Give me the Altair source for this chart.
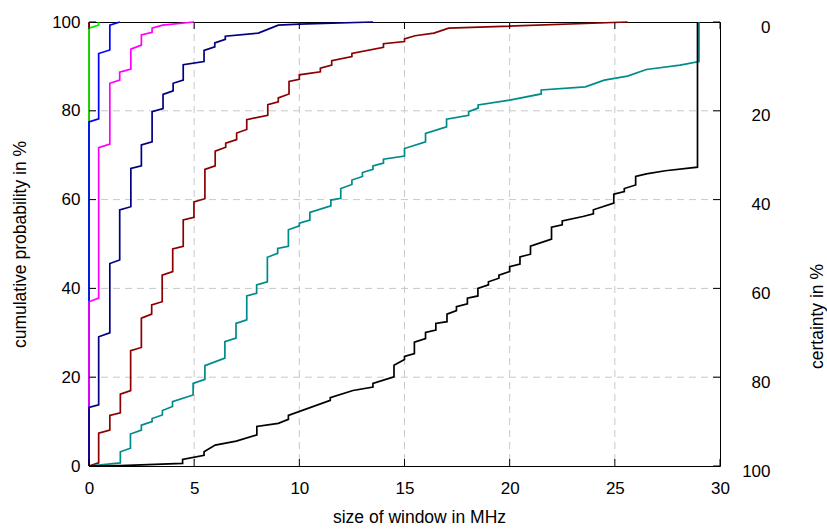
import altair as alt
import pandas as pd

# ---------------- data ----------------
x_ticks = [0, 5, 10, 15, 20, 25, 30]
y_ticks = [0, 20, 40, 60, 80, 100]
certainty_ticks = [0, 20, 40, 60, 80, 100]
x_grid = [5, 10, 15, 20, 25]
y_grid = [20, 40, 60, 80]

red_x = [0, 0]
red_y = [0, 100]

green_x = [0, 0, 0.46, 0.46]
green_y = [0, 98.6, 99.3, 100]

blue_x = [0, 0, 0.46, 0.46, 0.99, 0.99, 1.47]
blue_y = [0, 77.5, 78.2, 92.9, 93.7, 99.3, 100]

magenta_x = [0, 0, 0.46, 0.46, 0.99, 0.99, 1.46, 1.46, 1.99, 1.99, 2.49, 2.49, 3.0, 3.0, 3.5, 5.0]
magenta_y = [0, 37.0, 37.8, 71.7, 72.5, 86.2, 86.9, 88.7, 89.4, 93.9, 94.8, 97.1, 97.7, 98.6, 99.3, 100]

navy_x = [0, 0, 0.46, 0.46, 0.99, 0.99, 1.46, 1.46, 1.99, 1.99, 2.49, 2.49, 3.0, 3.0, 3.52, 3.52,
          4.0, 4.0, 4.48, 4.48, 5.47, 5.47, 5.98, 5.98, 6.48, 6.48, 8.05, 9.0, 10.0, 13.5]
navy_y = [0, 13.2, 13.8, 29.1, 30.0, 45.6, 46.4, 57.7, 58.4, 67.0, 67.6, 72.3, 73.0, 79.8, 80.5, 83.7,
          84.5, 86.2, 86.9, 90.4, 91.1, 93.6, 94.4, 95.3, 96.1, 96.8, 97.5, 99.3, 99.5, 100]

darkred_x = [0, 0.46, 0.46, 0.99, 0.99, 1.49, 1.49, 1.98, 1.98, 2.49, 2.49, 2.98, 2.98, 3.48, 3.48,
             3.98, 3.98, 4.48, 4.48, 4.99, 4.99, 5.51, 5.51, 6.0, 6.0, 6.5, 6.5, 7.02, 7.02, 7.5, 7.5,
             8.5, 8.5, 9.0, 9.0, 9.51, 9.51, 10.0, 10.0, 11.0, 11.0, 11.54, 11.54, 12.5, 12.5, 14.0,
             14.0, 15.0, 15.0, 15.5, 16.4, 17.1, 25.6]
darkred_y = [0, 0.7, 7.4, 8.1, 11.4, 12.0, 16.2, 17.0, 26.0, 26.7, 33.3, 34.2, 36.3, 37.0, 43.0,
             43.8, 48.9, 49.5, 55.4, 56.0, 59.5, 60.2, 66.8, 67.6, 70.9, 71.8, 72.7, 73.5, 75.0, 75.8, 78.0,
             79.0, 81.4, 82.0, 82.9, 83.8, 86.6, 87.1, 88.1, 88.8, 89.6, 90.3, 91.3, 92.2, 92.9, 94.3,
             95.1, 95.6, 96.2, 96.9, 97.5, 98.6, 100]

teal_x = [0, 1.49, 1.49, 1.97, 1.97, 2.49, 2.49, 3.0, 3.0, 3.49, 3.49, 3.97, 3.97, 4.95, 4.95, 5.51,
          5.51, 6.46, 6.46, 6.99, 6.99, 7.5, 7.5, 7.97, 7.97, 8.48, 8.48, 8.97, 8.97, 9.48, 9.48, 10.0,
          10.0, 10.5, 10.5, 11.5, 11.5, 11.97, 11.97, 12.5, 12.5, 13.0, 13.0, 13.5, 13.5, 14.0, 14.0,
          15.0, 15.0, 16.0, 16.0, 17.0, 17.0, 18.05, 18.05, 18.5, 18.5, 20.0, 21.5, 21.5, 23.6, 24.5,
          25.6, 26.5, 28.1, 29.0, 29.0]
teal_y = [0, 0.7, 3.2, 4.0, 7.2, 8.1, 9.2, 10.0, 10.7, 11.5, 12.5, 13.4, 14.5, 16.0, 18.6, 19.5,
          22.6, 24.3, 28.0, 28.8, 32.1, 32.9, 38.3, 38.9, 40.8, 41.5, 47.0, 47.9, 49.0, 49.5, 53.2, 54.1,
          54.7, 55.4, 57.1, 58.6, 59.9, 60.3, 62.5, 63.4, 64.4, 65.2, 66.1, 66.8, 67.6, 68.2, 69.1,
          69.8, 71.5, 73.0, 74.9, 76.4, 78.1, 79.0, 79.8, 80.6, 81.3, 82.4, 83.8, 84.7, 85.4, 86.9,
          87.8, 89.3, 90.3, 91.1, 100]

black_x = [0, 1.5, 4.45, 4.45, 5.47, 5.47, 6.0, 7.0, 7.98, 7.98, 9.0, 9.48, 9.48, 11.47, 11.47, 12.55,
           13.5, 13.5, 14.5, 14.5, 15.0, 15.0, 15.47, 15.47, 16.0, 16.0, 16.49, 16.49, 17.02, 17.02,
           17.47, 17.47, 17.99, 17.99, 18.49, 18.49, 18.99, 18.99, 19.49, 19.49, 20.0, 20.0, 20.49,
           20.49, 20.99, 20.99, 21.99, 21.99, 22.5, 22.5, 23.48, 23.98, 23.98, 24.95, 24.95, 25.45,
           25.45, 25.99, 25.99, 26.5, 27.4, 28.93, 28.93]
black_y = [0, 0.1, 0.6, 1.5, 2.4, 3.2, 4.7, 5.6, 7.0, 8.9, 9.6, 10.5, 11.4, 14.8, 15.4, 17.0,
           17.8, 18.6, 20.1, 22.7, 24.0, 24.7, 25.3, 27.9, 28.7, 30.1, 30.6, 32.1, 32.5, 34.2,
           35.0, 35.9, 36.5, 37.8, 38.3, 40.0, 40.8, 41.5, 42.3, 43.0, 43.8, 44.9, 45.5,
           47.1, 47.7, 49.5, 51.1, 53.8, 54.3, 55.2, 56.2, 56.8, 57.7, 59.2, 61.2, 61.8,
           62.5, 63.3, 65.2, 65.8, 66.5, 67.3, 100]

series = [
    ("red", red_x, red_y, "#ff0000"),
    ("green", green_x, green_y, "#00ee00"),
    ("blue", blue_x, blue_y, "#0000ff"),
    ("magenta", magenta_x, magenta_y, "#ff00ff"),
    ("navy", navy_x, navy_y, "#000080"),
    ("darkred", darkred_x, darkred_y, "#8b0000"),
    ("teal", teal_x, teal_y, "#008b8b"),
    ("black", black_x, black_y, "#000000"),
]

# ---------------- chart ----------------
W, H = 631, 444
FONT = "Liberation Sans"
TITLE_SIZE = 17.5

xscale = alt.Scale(domain=[0, 30], nice=False, zero=False)
yscale = alt.Scale(domain=[0, 100], nice=False, zero=False)
cscale = alt.Scale(domain=[0, 100], nice=False, zero=False, reverse=True)

x_axis = alt.Axis(values=x_ticks, title="size of window in MHz", grid=False, domain=False, ticks=False,
                  labelFont=FONT, labelFontSize=17, labelColor="black", labelPadding=14,
                  labelFlush=False, labelOverlap=False,
                  titleFont=FONT, titleFontSize=TITLE_SIZE, titleFontWeight="normal", titleColor="black",
                  titleX=330, titleY=51, titleBaseline="middle")
y_axis = alt.Axis(values=y_ticks, title="cumulative probability in %", grid=False, domain=False,
                  ticks=False, labelFont=FONT, labelFontSize=17, labelColor="black", labelPadding=9,
                  labelFlush=False, labelOverlap=False,
                  titleFont=FONT, titleFontSize=TITLE_SIZE, titleFontWeight="normal", titleColor="black",
                  titleX=-69, titleY=H / 2, titleAngle=270, titleBaseline="middle")
c_axis = alt.Axis(values=certainty_ticks, orient="right", title="certainty in %", grid=False,
                  domain=False, ticks=False, labelFont=FONT, labelFontSize=17, labelColor="black",
                  labelAlign="right", labelPadding=50, labelOffset=5, labelFlush=False,
                  labelOverlap=False,
                  titleFont=FONT, titleFontSize=TITLE_SIZE, titleFontWeight="normal", titleColor="black",
                  titleX=97, titleY=294, titleAngle=270, titleBaseline="middle")

X = alt.X("x:Q", scale=xscale, axis=x_axis)
Y = alt.Y("y:Q", scale=yscale, axis=y_axis)

grid_color = "#c8c8c8"
vgrid = alt.Chart(pd.DataFrame({"x": x_grid})).mark_rule(
    color=grid_color, strokeWidth=1, strokeDash=[7, 5]).encode(x=X)
hgrid = alt.Chart(pd.DataFrame({"y": y_grid})).mark_rule(
    color=grid_color, strokeWidth=1, strokeDash=[7, 5]).encode(y=Y)

tick_len = 7
xt_df = pd.DataFrame({"x": x_ticks})
yt_df = pd.DataFrame({"y": y_ticks})
bottom_ticks = alt.Chart(xt_df).mark_rule(color="black", strokeWidth=1).encode(
    x=X, y=alt.value(H), y2=alt.value(H - tick_len))
top_ticks = alt.Chart(xt_df).mark_rule(color="black", strokeWidth=1).encode(
    x=X, y=alt.value(0), y2=alt.value(tick_len))
left_ticks = alt.Chart(yt_df).mark_rule(color="black", strokeWidth=1).encode(
    y=Y, x=alt.value(0), x2=alt.value(tick_len))

line_layers = []
for name, xs, ys, col in series:
    df = pd.DataFrame({"x": xs, "y": ys, "i": list(range(len(xs)))})
    line_layers.append(
        alt.Chart(df).mark_line(color=col, strokeWidth=1.7, strokeJoin="miter").encode(
            x=X, y=Y, order="i:Q"))

main = alt.layer(vgrid, hgrid, *line_layers, bottom_ticks, top_ticks, left_ticks)

right_ticks = alt.Chart(pd.DataFrame({"c": certainty_ticks})).mark_rule(
    color="black", strokeWidth=1).encode(
    y=alt.Y("c:Q", scale=cscale, axis=c_axis),
    x=alt.value(W), x2=alt.value(W - tick_len))

chart = alt.layer(main, right_ticks).resolve_scale(y="independent").properties(
    width=W, height=H,
    autosize=alt.AutoSizeParams(type="none"),
    padding={"left": 89, "top": 22, "right": 827 - 89 - W, "bottom": 529 - 22 - H},
    background="white",
).configure_view(stroke="black", strokeWidth=1)

chart.save("out.html", embed_options={"renderer": "svg", "actions": False})
